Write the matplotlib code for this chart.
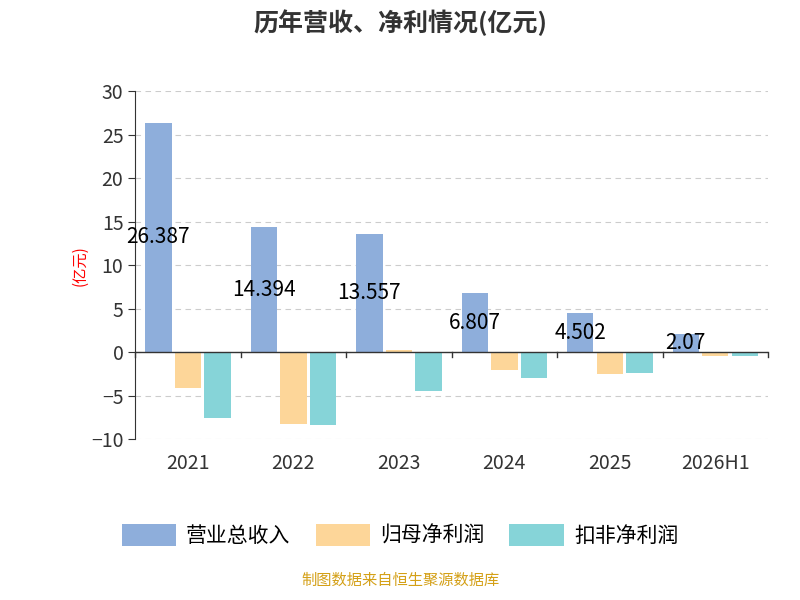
import matplotlib
matplotlib.use("Agg")
import matplotlib.pyplot as plt
import numpy as np

plt.rcParams['font.family'] = ['Noto Sans CJK SC', 'DejaVu Sans']

categories = ['2021', '2022', '2023', '2024', '2025', '2026H1']
revenue = [26.387, 14.394, 13.557, 6.807, 4.502, 2.07]
net_profit = [-4.1, -8.3, 0.3, -2.0, -2.5, -0.4]
deducted = [-7.6, -8.4, -4.5, -3.0, -2.4, -0.4]
series_names = ['营业总收入', '归母净利润', '扣非净利润']
colors = ['#8eaedb', '#fdd699', '#86d4d8']

fig = plt.figure(figsize=(8, 6), dpi=100)
ax = fig.add_axes([0.169, 0.268, 0.791, 0.58])
x = np.arange(len(categories))
w = 0.25
gap = 0.03
for i, (vals, c, n) in enumerate(zip([revenue, net_profit, deducted], colors, series_names)):
    ax.bar(x + (i - 1) * (w + gap), vals, w, color=c, label=n, zorder=3)
for xi, v in zip(x, revenue):
    ax.text(xi - (w + gap), v / 2, f'{v:g}' if v != 2.07 else '2.07', ha='center', va='center', fontsize=15, color='black', zorder=4)

ax.set_xlim(-0.5, len(categories) - 0.5)
ax.set_ylim(-10, 30)
ax.set_yticks(range(-10, 31, 5))
ax.tick_params(axis='y', labelsize=14, colors='#333333', length=5)
ax.grid(axis='y', linestyle=(0, (5, 4)), color='#cccccc', zorder=0)
for s in ['top', 'right', 'bottom']:
    ax.spines[s].set_visible(False)
ax.spines['left'].set_color('#333333')
ax.axhline(0, color='#333333', lw=1, zorder=4)
for b in np.arange(-0.5, len(categories), 1):
    ax.plot([b, b], [0, -0.6], color='#333333', lw=1, zorder=4, clip_on=False)
ax.set_xticks(x)
ax.set_xticklabels(categories, fontsize=14, color='#333333')
ax.tick_params(axis='x', length=0, pad=8)
for t in ax.get_xticklabels():
    pass
ax.xaxis.set_ticks_position('bottom')
# place x labels below plot
ax.tick_params(axis='x', pad=10)
ax.set_ylabel('(亿元)', color='red', fontsize=11, labelpad=2)

fig.text(0.5, 0.962, '历年营收、净利情况(亿元)', ha='center', va='center', fontsize=18, fontweight='bold', color='#333333')
fig.legend(loc='center', bbox_to_anchor=(0.5, 0.108), ncol=3, frameon=False, fontsize=15,
           handlelength=2.6, handleheight=1.3, columnspacing=1.2, handletextpad=0.5)
fig.text(0.5, 0.018, '制图数据来自恒生聚源数据库', ha='center', va='bottom', fontsize=11, color='#d4a017')
fig.savefig('out.png')
